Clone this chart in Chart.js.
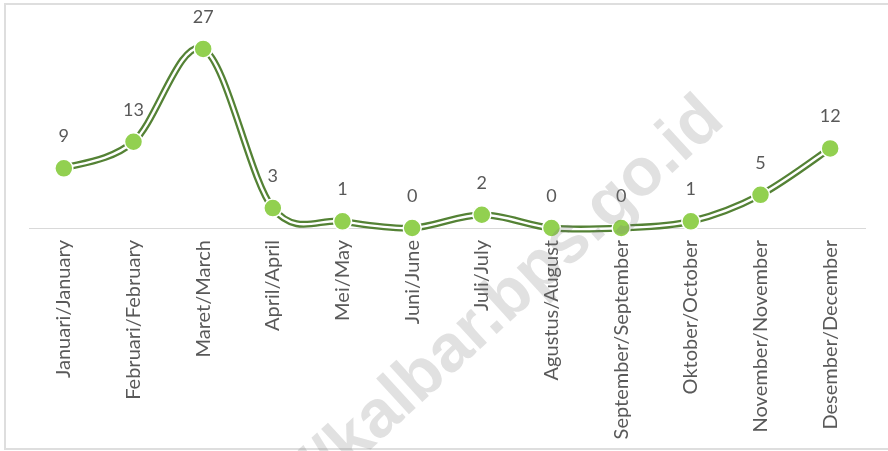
<!DOCTYPE html>
<html>
<head>
<meta charset="utf-8">
<script src="https://cdn.jsdelivr.net/npm/chart.js@4.4.1/dist/chart.umd.min.js"></script>
<style>
    body { margin: 0; background: #fff; }
    #wrap { position: absolute; left: 0; top: 0; width: 888px; height: 451px; }
</style>
</head>
<body>
<div id="wrap"><canvas id="chart" width="888" height="451"></canvas></div>
<script>
let months = ['Januari/January', 'Februari/February', 'Maret/March', 'April/April', 'Mei/May', 'Juni/June',
    'Juli/July', 'Agustus/August', 'September/September', 'Oktober/October', 'November/November', 'Desember/December'];
let counts = [9, 13, 27, 3, 1, 0, 2, 0, 0, 1, 5, 12];
let watermark = 'kalbar.bps.go.id';
let watermarkPrefix = 'https://';

let darkGreen = '#548235',
    lightGreen = '#92d050',
    textGray = '#595959',
    font = 'Lato, "Open Sans", sans-serif';

// border round the whole picture
let framePlugin = {
    id: 'frame',
    beforeDraw(chart) {
        let ctx = chart.ctx;
        ctx.save();
        ctx.fillStyle = '#fff';
        ctx.fillRect(0, 0, chart.width, chart.height);
        ctx.strokeStyle = '#dedede';
        ctx.lineWidth = 2;
        ctx.strokeRect(5, 4, chart.width + 10, chart.height - 6);
        ctx.restore();
    }
};

// Excel style smoothing: even catmull-rom control points instead of the distance weighted ones
let excelSmooth = {
    id: 'excelSmooth',
    beforeDatasetsDraw(chart) {
        [0, 1].forEach(function (di) {
            let meta = chart.getDatasetMeta(di),
                pts = meta.data,
                n = pts.length;
            for (let i = 0; i < n; i++) {
                let prev = pts[Math.max(i - 1, 0)],
                    next = pts[Math.min(i + 1, n - 1)],
                    dx = (next.x - prev.x) / 6,
                    dy = (next.y - prev.y) / 6;
                pts[i].cp1x = pts[i].x - dx;
                pts[i].cp1y = pts[i].y - dy;
                pts[i].cp2x = pts[i].x + dx;
                pts[i].cp2y = pts[i].y + dy;
            }
            meta.dataset._pointsUpdated = true;
        });
    }
};

// value labels above each point
let valueLabels = {
    id: 'valueLabels',
    afterDatasetsDraw(chart) {
        let ctx = chart.ctx,
            meta = chart.getDatasetMeta(2);
        ctx.save();
        ctx.font = '18px ' + font;
        ctx.fillStyle = textGray;
        ctx.textAlign = 'center';
        ctx.textBaseline = 'middle';
        meta.data.forEach(function (pt, i) {
            ctx.fillText(String(counts[i]), pt.x, pt.y - 32);
        });
        ctx.restore();
    }
};

let watermarkPlugin = {
    id: 'watermark',
    afterDraw(chart) {
        let ctx = chart.ctx;
        ctx.save();
        ctx.translate(526, 282);
        ctx.rotate(-42.5 * Math.PI / 180);
        ctx.font = 'bold 67px "Liberation Sans", Arial, sans-serif';
        ctx.fillStyle = 'rgba(120, 120, 120, 0.22)';
        ctx.textBaseline = 'middle';
        let w = ctx.measureText(watermark).width;
        ctx.textAlign = 'left';
        ctx.fillText(watermark, -w / 2, 0);
        ctx.textAlign = 'right';
        ctx.fillText(watermarkPrefix, -w / 2, 0);
        ctx.restore();
    }
};

let ctx = document.getElementById('chart').getContext('2d');
let chart = new Chart(ctx, {
    type: 'line',
    data: {
        labels: months,
        datasets: [{
            data: counts,
            borderColor: '#ffffff',
            borderWidth: 2.4,
            pointRadius: 0,
            clip: false,
            order: 1
        }, {
            data: counts,
            borderColor: darkGreen,
            borderWidth: 7,
            pointRadius: 0,
            clip: false,
            order: 2
        }, {
            data: counts,
            showLine: false,
            pointRadius: 9,
            pointBackgroundColor: lightGreen,
            pointBorderColor: '#ffffff',
            pointBorderWidth: 1.5,
            clip: false,
            order: 0
        }]
    },
    options: {
        responsive: false,
        animation: false,
        events: [],
        layout: {
            autoPadding: false,
            padding: { left: 29, right: 23, top: 29, bottom: 0 }
        },
        elements: {
            line: { tension: 0.4, capBezierPoints: false }
        },
        plugins: {
            legend: { display: false },
            tooltip: { enabled: false }
        },
        scales: {
            x: {
                offset: true,
                grid: { display: true, color: 'rgba(0,0,0,0)', drawTicks: false },
                border: { display: true, color: '#d9d9d9', width: 1 },
                ticks: {
                    minRotation: 90,
                    maxRotation: 90,
                    autoSkip: false,
                    padding: 12,
                    color: textGray,
                    font: { family: font, size: 20 }
                },
                afterFit(scale) {
                    scale.height = 223;
                }
            },
            y: {
                display: false,
                min: 0,
                max: 30
            }
        }
    },
    plugins: [framePlugin, excelSmooth, valueLabels, watermarkPlugin]
});
</script>
</body>
</html>
